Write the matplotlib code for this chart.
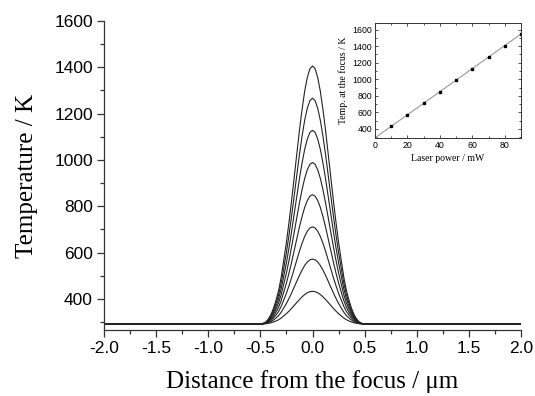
import numpy as np
import matplotlib
matplotlib.use("Agg")
import matplotlib.pyplot as plt
from matplotlib.ticker import MultipleLocator

# ---- data ----
baseline_T = 292
peak_T = [433, 572, 711, 850, 989, 1128, 1267, 1406]          # 10..80 mW curves
# normalized temperature-rise profile, |x| in um
profile_x = [0.0, 0.025, 0.05, 0.075, 0.1, 0.125, 0.15, 0.175, 0.2, 0.225,
             0.25, 0.275, 0.3, 0.325, 0.35, 0.375, 0.4, 0.425, 0.45, 0.475, 0.5]
profile_v = [1.0, 0.989, 0.955, 0.902, 0.832, 0.751, 0.661, 0.570, 0.480, 0.395,
             0.317, 0.249, 0.182, 0.130, 0.092, 0.060, 0.035, 0.018, 0.007, 0.002, 0.0]

inset_power = [10, 20, 30, 40, 50, 60, 70, 80, 90]
inset_temp = [433, 572, 711, 850, 989, 1128, 1267, 1406, 1545]
fit_power = [0, 90]
fit_temp = [292, 1547]

x_ticks = [-2.0, -1.5, -1.0, -0.5, 0.0, 0.5, 1.0, 1.5, 2.0]
y_ticks = [400, 600, 800, 1000, 1200, 1400, 1600]

# ---- figure ----
fig = plt.figure(figsize=(5.35, 3.96), dpi=100)
ax = fig.add_axes([104/535, (396-330)/396, (521-104)/535, (330-21)/396])

px = np.array(profile_x)
pv = np.array(profile_v)
xs = np.concatenate([[-2.0], -px[::-1], px[1:], [2.0]])
vs = np.concatenate([[0.0], pv[::-1], pv[1:], [0.0]])
for p in peak_T:
    ax.plot(xs, baseline_T + (p - baseline_T) * vs, color='#222222', lw=0.8)

ax.set_xlim(-2.0, 2.0)
ax.set_ylim(266, 1600)
ax.set_xticks(x_ticks)
ax.set_xticklabels([f"{v:.1f}" for v in x_ticks])
ax.set_yticks(y_ticks)
ax.xaxis.set_minor_locator(MultipleLocator(0.25))
ax.yaxis.set_minor_locator(MultipleLocator(100))
ax.spines['top'].set_visible(False)
ax.spines['right'].set_visible(False)
for s in ['left', 'bottom']:
    ax.spines[s].set_color('#333333')
    ax.spines[s].set_linewidth(0.9)
ax.tick_params(which='major', direction='out', length=5, width=0.9, color='#333333',
               labelsize=12.5, labelfontfamily='Liberation Sans', pad=3)
ax.tick_params(which='minor', direction='out', length=3, width=0.9, color='#333333')
ax.set_xlabel("Distance from the focus / \u03bcm", fontsize=18, family='Liberation Serif', labelpad=10)
ax.set_ylabel("Temperature / K", fontsize=18, family='Liberation Serif', labelpad=12)

# ---- inset ----
ins = fig.add_axes([375/535, (396-138)/396, (521-375)/535, (138-23)/396])
ins.plot(fit_power, fit_temp, color='#999999', lw=0.8)
ins.plot(inset_power, inset_temp, 's', color='black', ms=2)
ins.set_xlim(0, 90)
ins.set_ylim(290, 1680)
ins.set_xticks([0, 20, 40, 60, 80])
ins.set_yticks([400, 600, 800, 1000, 1200, 1400, 1600])
ins.xaxis.set_minor_locator(MultipleLocator(10))
ins.yaxis.set_minor_locator(MultipleLocator(100))
for s in ins.spines.values():
    s.set_color('#333333')
    s.set_linewidth(0.7)
ins.tick_params(which='both', direction='in', top=True, right=True, color='#333333', width=0.6,
                labelsize=6.3, labelfontfamily='Liberation Sans', pad=2)
ins.tick_params(which='major', length=2.5)
ins.tick_params(which='minor', length=1.5)
ins.set_xlabel("Laser power / mW", fontsize=7, family='Liberation Serif', labelpad=3)
ins.set_ylabel("Temp. at the focus / K", fontsize=7, family='Liberation Serif', labelpad=3)

fig.savefig("out.png", dpi=100)
